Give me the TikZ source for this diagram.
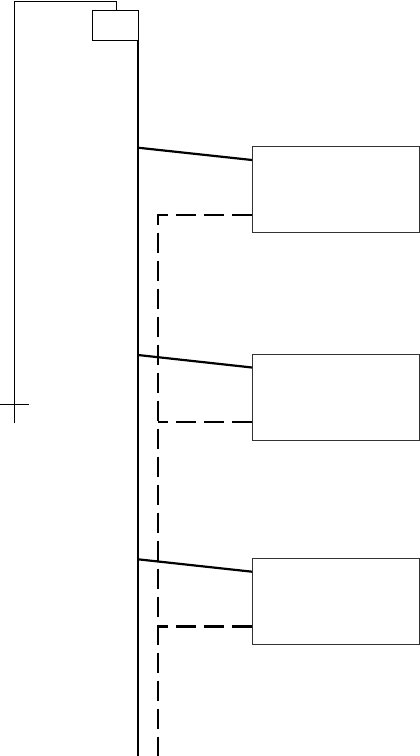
\documentclass[tikz,border=0pt]{standalone}
\begin{document}
\begin{tikzpicture}[x=1pt,y=-1pt,
  unitbox/.style={draw=black!80,line width=1pt,minimum width=167pt,minimum height=86pt,inner sep=0pt,anchor=north west},
  smallbox/.style={draw=black,line width=1pt,minimum width=46pt,minimum height=30pt,inner sep=0pt,anchor=north west},
  thinline/.style={line width=1pt},
  busline/.style={line width=2.4pt},
  linkline/.style={line width=2.2pt},
  dashline/.style={line width=2.4pt,dash pattern=on 20pt off 8pt}]
\useasboundingbox (0,0) rectangle (420,756);
\node[smallbox] (sb) at (92,10.3) {};
\node[unitbox] (u1) at (252,145.7) {};
\node[unitbox] (u2) at (252,353.5) {};
\node[unitbox] (u3) at (252,557.5) {};
% thin feed line
\coordinate (tl) at (14.7,1);
\coordinate (tb) at (14.7,423);
\coordinate (cl) at (0,404.3);
\coordinate (cr) at (28.5,404.3);
\draw[thinline] (tb) -- (tl) -| (116,10.3);
\draw[thinline] (cl) -- (cr);
% bus
\coordinate (busend) at (138,756);
\draw[busline] (138,40.3) -- (busend);
\coordinate (b1) at (138,147.7);
\coordinate (b2) at (138,355);
\coordinate (b3) at (138,559.3);
\draw[linkline] (b1) -- (252,160);
\draw[linkline] (b2) -- (252,367.5);
\draw[linkline] (b3) -- (252,571.7);
% dashed return
\coordinate (dend) at (157.7,756);
\draw[dashline] (252,215) -| (dend);
\draw[dashline] (252,422) -- (157.7,422);
\draw[dashline] (252,626.3) -- (157.7,626.3);
\end{tikzpicture}
\end{document}
